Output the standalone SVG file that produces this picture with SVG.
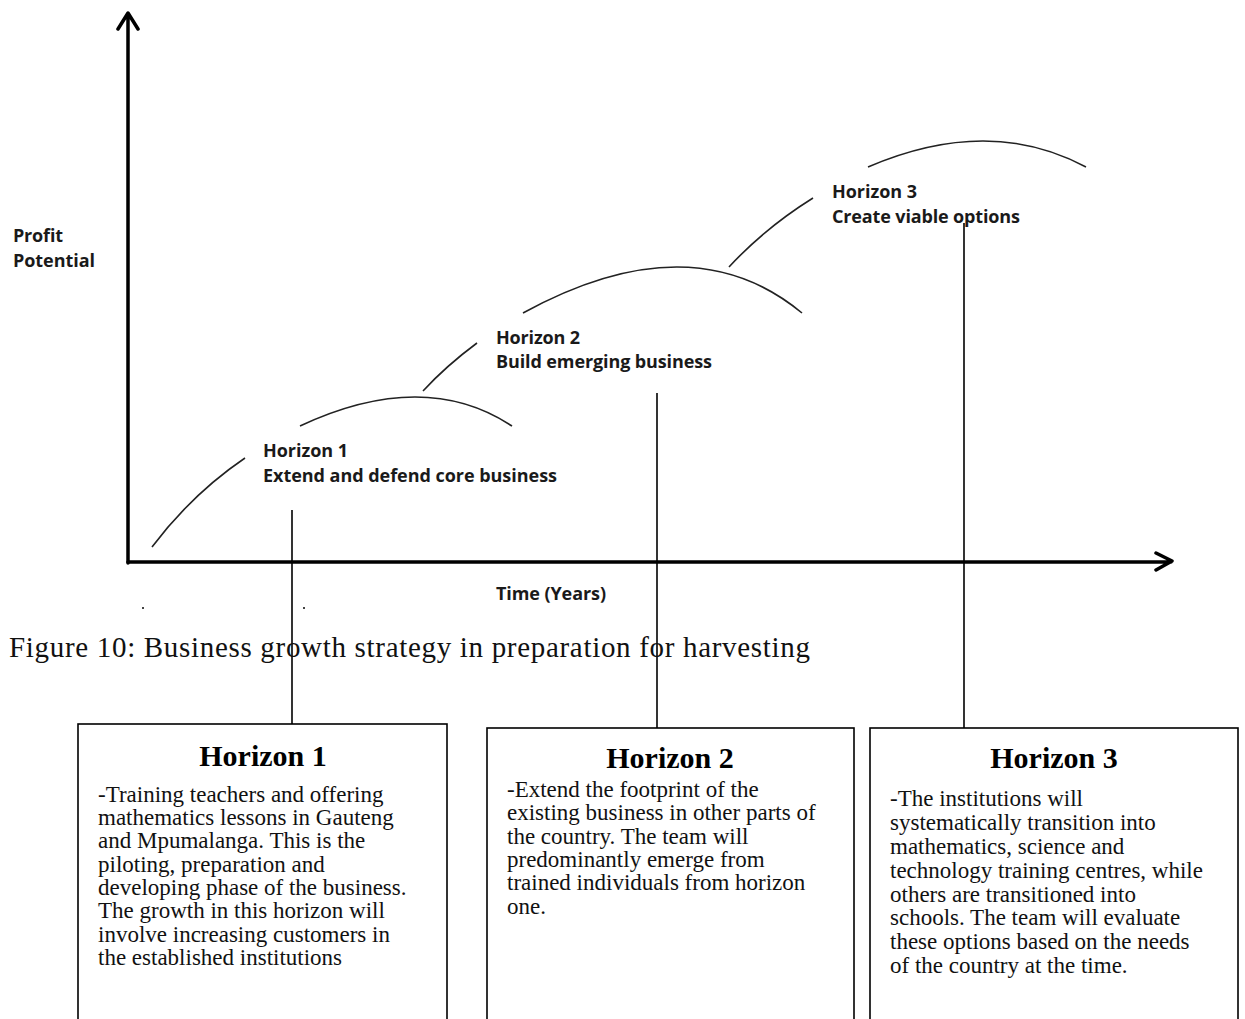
<svg xmlns="http://www.w3.org/2000/svg" width="1245" height="1019" viewBox="0 0 1245 1019">
<style>
.axis{stroke:#000;stroke-width:3.5;fill:none;stroke-linecap:round;stroke-linejoin:round}
.curve{stroke:#222;stroke-width:1.6;fill:none}
.conn{stroke:#000;stroke-width:1.6;fill:none}
.lbl{font-family:"Open Sans","Liberation Sans",sans-serif;font-weight:700;font-size:18px;fill:#1a1a1a}
.cap{font-family:"Liberation Serif","Times New Roman",serif;font-size:29px;fill:#111}
.box{fill:#fff;stroke:#000;stroke-width:1.6}
.ttl{font-family:"Liberation Serif","Times New Roman",serif;font-weight:bold;font-size:30px;fill:#000;text-anchor:middle}
.body{font-family:"Liberation Serif","Times New Roman",serif;font-size:23px;fill:#111}
</style>
<rect width="1245" height="1019" fill="#fff"/>
<g id="chart">
  <path class="axis" d="M128,563 L128,14 M118,29 L128,13 L138,29"/>
  <path class="axis" d="M128,562 L1171,562 M1156,553 L1172,561 L1156,570"/>
  <text class="lbl" x="13" y="242" textLength="50">Profit</text>
  <text class="lbl" x="13" y="267" textLength="82">Potential</text>
  <text class="lbl" x="496" y="600" textLength="110">Time (Years)</text>
  <rect x="142" y="607" width="2" height="2" fill="#444"/>
  <rect x="303" y="607" width="2" height="2" fill="#444"/>
  <path class="curve" d="M152,547 Q192,494 245,458"/>
  <path class="curve" d="M300,426 Q424,368 512,426"/>
  <path class="curve" d="M423,391 Q446,366 477,343"/>
  <path class="curve" d="M523,313 Q691,221 802,313"/>
  <path class="curve" d="M729,267 Q765,228 813,198"/>
  <path class="curve" d="M868,167 Q989,115 1086,167"/>
</g>
<g id="label-h1">
  <text class="lbl" x="263" y="457" textLength="85">Horizon 1</text>
  <text class="lbl" x="263" y="482" textLength="294">Extend and defend core business</text>
</g>
<g id="label-h2">
  <text class="lbl" x="496" y="344" textLength="84">Horizon 2</text>
  <text class="lbl" x="496" y="368" textLength="216">Build emerging business</text>
</g>
<g id="label-h3">
  <text class="lbl" x="832" y="198" textLength="85">Horizon 3</text>
  <text class="lbl" x="832" y="223" textLength="188">Create viable options</text>
</g>
<g id="connectors">
  <line class="conn" x1="292" y1="510" x2="292" y2="724"/>
  <line class="conn" x1="657" y1="393" x2="657" y2="728"/>
  <line class="conn" x1="964" y1="223" x2="964" y2="728"/>
</g>
<text class="cap" x="9" y="657" textLength="801">Figure 10: Business growth strategy in preparation for harvesting</text>
<g id="box-h1">
  <rect class="box" x="78" y="724" width="369" height="310"/>
  <text class="ttl" x="263" y="766">Horizon 1</text>
  <text class="body" x="98" y="802">-Training teachers and offering</text>
  <text class="body" x="98" y="825">mathematics lessons in Gauteng</text>
  <text class="body" x="98" y="848">and Mpumalanga. This is the</text>
  <text class="body" x="98" y="872">piloting, preparation and</text>
  <text class="body" x="98" y="895">developing phase of the business.</text>
  <text class="body" x="98" y="918">The growth in this horizon will</text>
  <text class="body" x="98" y="942">involve increasing customers in</text>
  <text class="body" x="98" y="965">the established institutions</text>
</g>
<g id="box-h2">
  <rect class="box" x="487" y="728" width="367" height="310"/>
  <text class="ttl" x="670" y="768">Horizon 2</text>
  <text class="body" x="507" y="797">-Extend the footprint of the</text>
  <text class="body" x="507" y="820">existing business in other parts of</text>
  <text class="body" x="507" y="844">the country. The team will</text>
  <text class="body" x="507" y="867">predominantly emerge from</text>
  <text class="body" x="507" y="890">trained individuals from horizon</text>
  <text class="body" x="507" y="914">one.</text>
</g>
<g id="box-h3">
  <rect class="box" x="870" y="728" width="368" height="310"/>
  <text class="ttl" x="1054" y="768">Horizon 3</text>
  <text class="body" x="890" y="806">-The institutions will</text>
  <text class="body" x="890" y="830">systematically transition into</text>
  <text class="body" x="890" y="854">mathematics, science and</text>
  <text class="body" x="890" y="878">technology training centres, while</text>
  <text class="body" x="890" y="902">others are transitioned into</text>
  <text class="body" x="890" y="925">schools. The team will evaluate</text>
  <text class="body" x="890" y="949">these options based on the needs</text>
  <text class="body" x="890" y="973">of the country at the time.</text>
</g>
</svg>
